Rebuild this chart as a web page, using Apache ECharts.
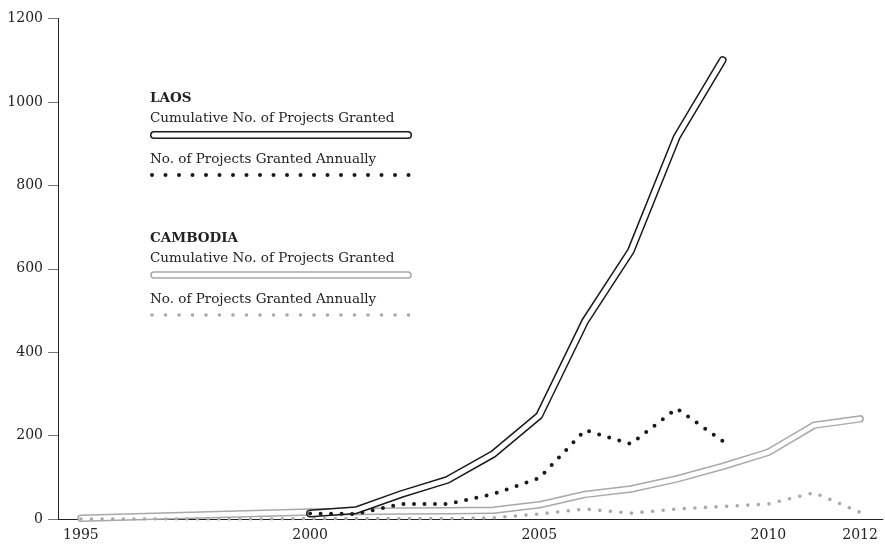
<!DOCTYPE html>
<html><head><meta charset="utf-8">
<script src="https://cdn.jsdelivr.net/npm/echarts@6/dist/echarts.min.js"></script>
<style>html,body{margin:0;padding:0;background:#fff}#c{width:885px;height:545px}</style>
</head><body><div id="c"></div>
<script>
const years = ['1995','1996','1997','1998','1999','2000','2001','2002','2003','2004','2005','2006','2007','2008','2009','2010','2011','2012'];
const shownYearLabels = ['1995','2000','2005','2010','2012'];
const laosCumulative = [null,null,null,null,null,13,21,60,94,156,248,474,643,916,1100,null,null,null];
const laosAnnual = [null,null,null,null,null,13,12,36,36,60,98,213,180,265,187,null,null,null];
const cambodiaCumulative = [2,5,8,11,14,17,18,19,20,21,34,59,72,96,126,160,225,240];
const cambodiaAnnual = [0,0,0,0,0,1,1,1,1,3,12,24,14,24,30,36,63,16];
const legendTexts = {laos:'LAOS', cambodia:'CAMBODIA', cum:'Cumulative No. of Projects Granted', ann:'No. of Projects Granted Annually'};

const FONT = '"DejaVu Serif", serif';
const chart = echarts.init(document.getElementById('c'));

function txt(x, y, t, bold) {
  return {type:'text', x:x, y:y, silent:true,
    style:{text:t, font:(bold?'bold ':'')+'13.5px '+FONT, fill:'#222', verticalAlign:'middle'}};
}
function ln(x1, x2, y, stroke, w, dash) {
  return {type:'line', silent:true, shape:{x1:x1, y1:y, x2:x2, y2:y},
    style:{stroke:stroke, lineWidth:w, lineCap:'round', lineDash:dash||null}};
}

chart.setOption({
  animation:false,
  grid:{left:58, right:2, top:18.5, bottom:26, containLabel:false},
  xAxis:{type:'category', data:years, boundaryGap:true,
    axisLine:{lineStyle:{color:'#222', width:1}},
    axisTick:{alignWithLabel:true, interval:0, length:9, lineStyle:{color:'#333'}},
    axisLabel:{interval:0, margin:9, fontFamily:FONT, fontSize:14, color:'#222',
      formatter:function(v){return shownYearLabels.indexOf(v)>=0 ? v : '';}},
    splitLine:{show:false}},
  yAxis:{type:'value', min:0, max:1200, interval:200,
    axisLine:{show:true, lineStyle:{color:'#222', width:1}},
    axisTick:{show:true, length:10, lineStyle:{color:'#777'}},
    axisLabel:{margin:15, fontFamily:FONT, fontSize:14, color:'#222',
      formatter:function(v){return String(v);}},
    splitLine:{show:false}},
  series:[
    {type:'line', data:cambodiaCumulative, symbol:'none', silent:true, z:2,
      lineStyle:{color:'#a8a8a8', width:7.5, cap:'round', join:'round'}},
    {type:'line', data:cambodiaCumulative, symbol:'none', silent:true, z:3,
      lineStyle:{color:'#fff', width:4.5, cap:'round', join:'round'}},
    {type:'line', data:cambodiaAnnual, symbol:'none', silent:true, z:4,
      lineStyle:{color:'#a8a8a8', width:3.6, cap:'round', type:[0,10.6]}},
    {type:'line', data:laosCumulative, symbol:'none', silent:true, z:5,
      lineStyle:{color:'#1a1a1a', width:8, cap:'round', join:'round'}},
    {type:'line', data:laosCumulative, symbol:'none', silent:true, z:6,
      lineStyle:{color:'#fff', width:5, cap:'round', join:'round'}},
    {type:'line', data:laosAnnual, symbol:'none', silent:true, z:7,
      lineStyle:{color:'#1a1a1a', width:4, cap:'round', type:[0,10.5]}}
  ],
  graphic:[
    txt(150, 98, legendTexts.laos, true),
    txt(150, 118, legendTexts.cum, false),
    ln(154, 408, 135, '#1a1a1a', 8),
    ln(154, 408, 135, '#fff', 5),
    txt(150, 159, legendTexts.ann, false),
    ln(152, 410, 175, '#1a1a1a', 4, [0,13.5]),
    txt(150, 238, legendTexts.cambodia, true),
    txt(150, 258, legendTexts.cum, false),
    ln(154, 408, 275, '#a8a8a8', 7.5),
    ln(154, 408, 275, '#fff', 4.5),
    txt(150, 299, legendTexts.ann, false),
    ln(152, 410, 315, '#a8a8a8', 3.6, [0,13.5])
  ]
});
</script></body></html>
